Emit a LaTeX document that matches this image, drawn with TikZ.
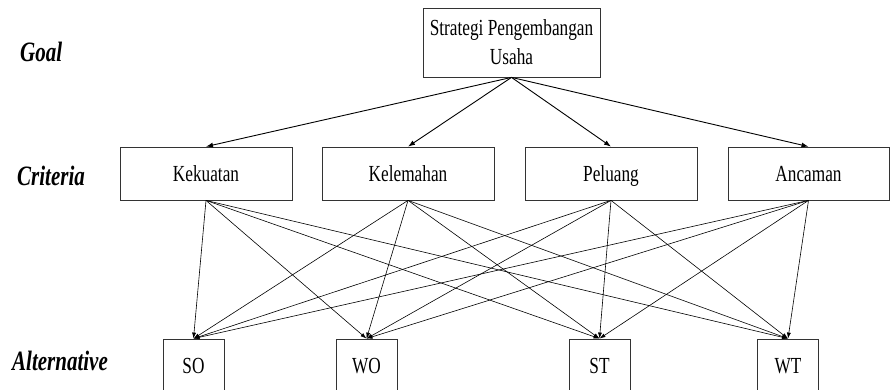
\documentclass[tikz,border=0pt]{standalone}
\usepackage{fontspec}
\setmainfont[FakeStretch=0.75]{Liberation Serif}
\usetikzlibrary{arrows.meta}

\begin{document}
\begin{tikzpicture}[x=1pt,y=1pt,yscale=-1,xscale=1,
  kotak/.style={draw=black!80,line width=0.8pt,inner sep=0pt,align=center,font=\fontsize{23}{29}\selectfont},
  sebaris/.style={kotak,text height=17pt,text depth=2pt},
  tingkat/.style={anchor=base west,inner sep=0pt,font=\fontsize{28}{32}\selectfont\bfseries\itshape},
  panah/.style={-{Latex[length=7pt,width=5pt]},line width=0.9pt},
  panahtipis/.style={-{Latex[length=6pt,width=4pt]},line width=0.6pt}]
\useasboundingbox (0,0) rectangle (890,390);
\clip (0,0) rectangle (890,390);

% Text Node
\node [tingkat] (lgoal) at (20,62) {Goal};
% Text Node
\node [tingkat] (lkrit) at (17,185) {Criteria};
% Text Node
\node [tingkat] (lalt) at (12,370) {Alternative};

% Goal
\node [kotak,minimum width=177,minimum height=69] (goal) at (511.5,42.5) {Strategi Pengembangan\\Usaha};

% Criteria
\node [sebaris,minimum width=172,minimum height=53] (kek) at (206,173.5) {Kekuatan};
\node [sebaris,minimum width=172,minimum height=53] (kel) at (408,173.5) {Kelemahan};
\node [sebaris,minimum width=172,minimum height=53] (pel) at (611,173.5) {Peluang};
\node [sebaris,minimum width=161,minimum height=53] (anc) at (808.5,173.5) {Ancaman};

% Alternative
\node [sebaris,minimum width=61,minimum height=54] (so) at (193.5,366) {SO};
\node [sebaris,minimum width=61,minimum height=54] (wo) at (366.5,366) {WO};
\node [sebaris,minimum width=61,minimum height=54] (st) at (599.5,366) {ST};
\node [sebaris,minimum width=61,minimum height=54] (wt) at (788,366) {WT};

% goal -> criteria
\foreach \k in {kek,kel,pel,anc}
  \draw [panah] (goal.south) -- (\k.north);

% criteria -> alternative
\foreach \k in {kek,kel,pel,anc}
  \foreach \a in {so,wo,st,wt}
    \draw [panahtipis] (\k.south) -- (\a.north);

\end{tikzpicture}
\end{document}
